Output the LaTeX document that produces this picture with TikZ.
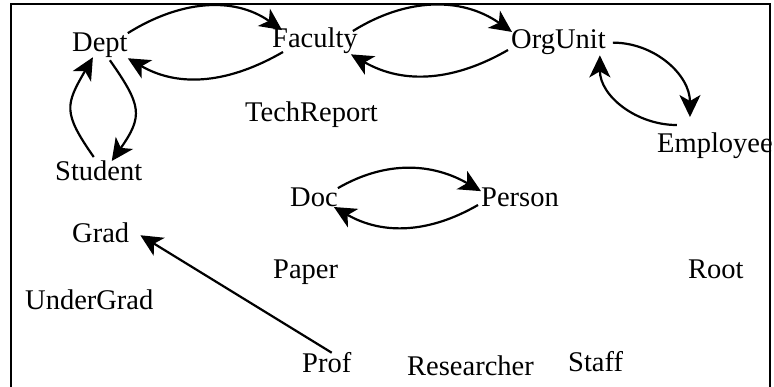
\documentclass[tikz,border=0pt]{standalone}
\usepackage{fontspec}
\setmainfont{Liberation Serif}
\usetikzlibrary{arrows.meta}
\begin{document}
\begin{tikzpicture}[x=1pt,y=1pt,
  lbl/.style={inner sep=0pt, anchor=base west, font=\fontsize{28.5}{30}\selectfont},
  rel/.style={line width=2.2pt, -{Stealth[length=22pt,width=21pt,inset=6pt]}},
  frame/.style={line width=1.5pt}]
\useasboundingbox (0,0) rectangle (774,-387);
\draw[frame] (11,-387) -- (11,-4) -- (770,-4) -- (770,-387);

\node[lbl] (dept) at (72,-52) {Dept};
\node[lbl] (faculty) at (272,-48) {Faculty};
\node[lbl] (orgunit) at (511,-49) {OrgUnit};
\node[lbl] (techreport) at (245,-122) {TechReport};
\node[lbl] (employee) at (657,-153) {Employee};
\node[lbl] (student) at (55,-181) {Student};
\node[lbl] (doc) at (290,-207) {Doc};
\node[lbl] (person) at (481,-207) {Person};
\node[lbl] (grad) at (72,-243) {Grad};
\node[lbl] (paper) at (273,-279) {Paper};
\node[lbl] (root) at (688,-279) {Root};
\node[lbl] (undergrad) at (25,-310) {UnderGrad};
\node[lbl] (prof) at (302,-373) {Prof};
\node[lbl] (researcher) at (407,-376) {Researcher};
\node[lbl] (staff) at (568,-372) {Staff};

% Dept <-> Faculty
\draw[rel] (dept.north east) to[out=32,in=145] ([xshift=10pt,yshift=-2pt]faculty.north west);
\draw[rel] ([xshift=11pt,yshift=-4pt]faculty.base west) to[out=-150,in=-30] (dept.south east);
% Faculty <-> OrgUnit
\draw[rel] ([xshift=-5pt,yshift=-3pt]faculty.north east) to[out=32,in=145] ([xshift=1pt,yshift=-2pt]orgunit.north west);
\draw[rel] ([xshift=-3pt,yshift=-1pt]orgunit.base west) to[out=-150,in=-30] ([xshift=-7pt]faculty.south east);
% OrgUnit <-> Employee
\draw[rel] ([xshift=7pt]orgunit.east) to[out=0,in=90] ([xshift=-25pt,yshift=16pt]employee.north);
\draw[rel] ([xshift=-38pt,yshift=8pt]employee.north) to[out=180,in=-90] ([xshift=-6pt]orgunit.south east);
% Dept <-> Student
\draw[rel] ([xshift=10pt,yshift=-2pt]dept.south) to[out=-55,in=55,looseness=1.4] ([xshift=13pt]student.north);
\draw[rel] ([xshift=-5pt,yshift=4pt]student.north) to[out=125,in=-120,looseness=1.4] ([xshift=-7pt,yshift=1pt]dept.south);
% Doc <-> Person
\draw[rel] (doc.north east) to[out=30,in=150] ([yshift=-3pt]person.north west);
\draw[rel] ([xshift=-3pt,yshift=2pt]person.base west) to[out=-150,in=-30] ([xshift=-4pt]doc.base east);
% Prof -> Grad
\draw[rel] ([xshift=5pt]prof.north) -- ([xshift=11pt,yshift=-2pt]grad.east);
\end{tikzpicture}
\end{document}
